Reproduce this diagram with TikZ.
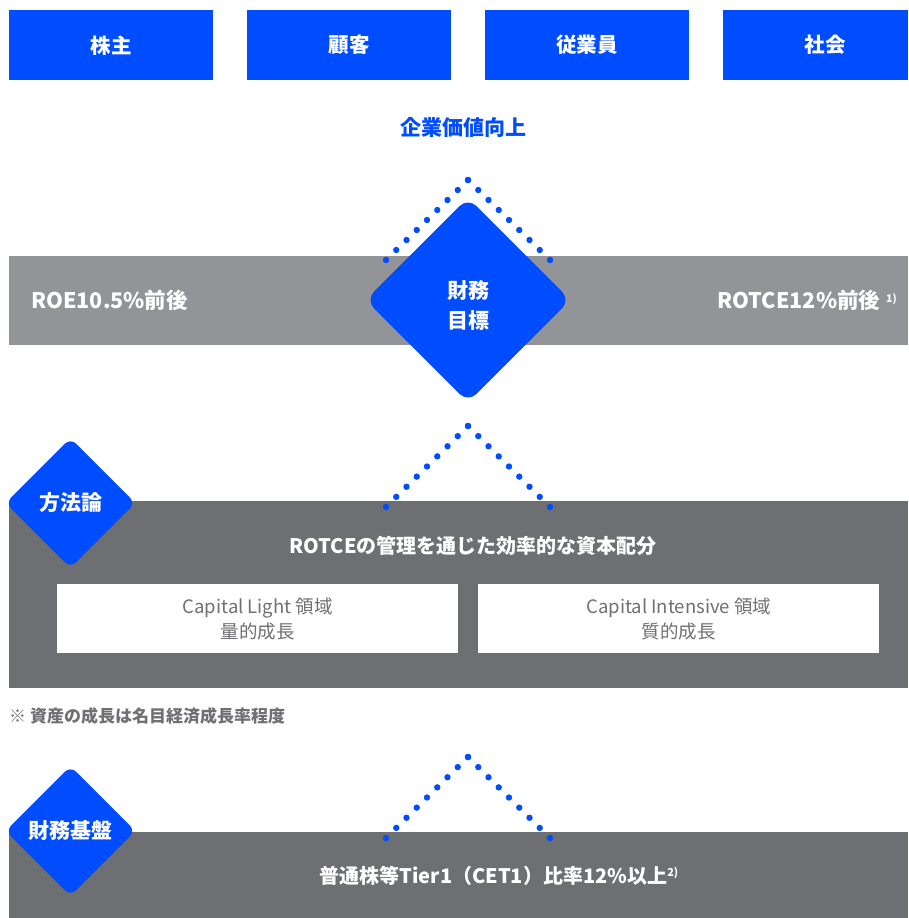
\documentclass[tikz,border=0pt]{standalone}
\usepackage{fontspec}
\setmainfont{Noto Sans CJK JP}
\usetikzlibrary{shapes.geometric,calc}
\definecolor{brand}{RGB}{0,76,255}
\definecolor{bandgray}{RGB}{147,148,152}
\definecolor{deepgray}{RGB}{110,111,115}
\definecolor{textgray}{RGB}{112,112,116}
\begin{document}
\begin{tikzpicture}[x=1pt,y=-1pt,
  boldtext/.style={font=\bfseries\fontsize{20}{30}\selectfont},
  topbox/.style={font=\bfseries\fontsize{20.5}{30}\selectfont, fill=brand, text=white, minimum width=204pt, minimum height=70pt, inner sep=0pt, anchor=north west},
  toplabel/.style={font=\bfseries\fontsize{20.5}{30}\selectfont, text=white, inner sep=0pt},
  bigdia/.style={diamond, aspect=1, minimum width=205pt, minimum height=205pt, inner sep=0pt, rounded corners=12pt, fill=brand},
  diatext/.style={text=white, align=center, inner sep=0pt, font=\bfseries\fontsize{21}{30}\selectfont},
  smalldia/.style={diamond, aspect=1, minimum width=130pt, minimum height=130pt, inner sep=0pt, rounded corners=8pt, fill=brand, text=white, font=\bfseries\fontsize{21}{26}\selectfont},
  bandtext/.style={boldtext, text=white, inner sep=0pt},
  figtext/.style={text=white, inner sep=0pt, font=\bfseries\fontsize{21.5}{30}\selectfont},
  whitebox/.style={fill=white, text=textgray, minimum width=401pt, minimum height=69pt, inner sep=0pt, anchor=north west, align=center, font=\fontsize{18.5}{25}\selectfont},
  dot/.style={fill=brand}
]
\useasboundingbox (0,0) rectangle (908,918);

% top boxes
\node[topbox] (sh) at (9,10) {株主};
\node[topbox] (cu) at (247,10) {顧客};
\node[topbox] (em) at (485,10) {従業員};
\fill[brand] (723,10) rectangle (908,80);
\node[toplabel] (so) at (825,45) {社会};

\node[text=brand, inner sep=0pt, font=\bfseries\fontsize{21}{30}\selectfont] (val) at (463,127) {企業価値向上};

% bands
\fill[bandgray] (9,256) rectangle (908,345);
\fill[deepgray] (9,501) rectangle (908,688);
\fill[deepgray] (9,832) rectangle (908,918);

% dotted chevrons
\coordinate (c1l) at (386,260); \coordinate (c1a) at (468,180); \coordinate (c1r) at (550,260);
\coordinate (c2l) at (386,507); \coordinate (c2a) at (468,426); \coordinate (c2r) at (550,507);
\coordinate (c3l) at (386,838); \coordinate (c3a) at (468,757); \coordinate (c3r) at (550,838);
\foreach \L/\A/\R in {c1l/c1a/c1r, c2l/c2a/c2r, c3l/c3a/c3r}{
  \foreach \i in {0,...,8}{
    \fill[dot] ($(\L)!\i/8!(\A)$) circle (3.2pt);
    \fill[dot] ($(\A)!\i/8!(\R)$) circle (3.2pt);
  }
}

% financial targets
\node[figtext, anchor=west] (roe) at (31,300) {ROE10.5\%前後};
\node[figtext, anchor=east] (rotce) at (897,300) {ROTCE12\%前後\hspace{6pt}{\fontsize{10.5}{12}\selectfont\raisebox{6pt}{1)}}};
\node[bigdia] (goal) at (468,300) {};
\node[diatext] (goaltext) at (468,306) {財務\\目標};

% methodology
\node[bandtext] (method) at (473,546) {ROTCEの管理を通じた効率的な資本配分};
\node[whitebox] (light) at (57,584) {Capital Light 領域\\量的成長};
\node[whitebox] (inten) at (478,584) {Capital Intensive 領域\\質的成長};
\node[smalldia] (meth) at (70.5,503) {方法論};

\node[anchor=west, inner sep=0pt, text=textgray, font=\bfseries\fontsize{17}{20}\selectfont] (note) at (9,716) {※ 資産の成長は名目経済成長率程度};

% financial base
\node[bandtext] (cet) at (499,876) {普通株等Tier1（CET1）比率12\%以上{\fontsize{11}{12}\selectfont\raisebox{7pt}{2)}}};
\node[smalldia] (base) at (70.5,831) {財務基盤};
\end{tikzpicture}
\end{document}
